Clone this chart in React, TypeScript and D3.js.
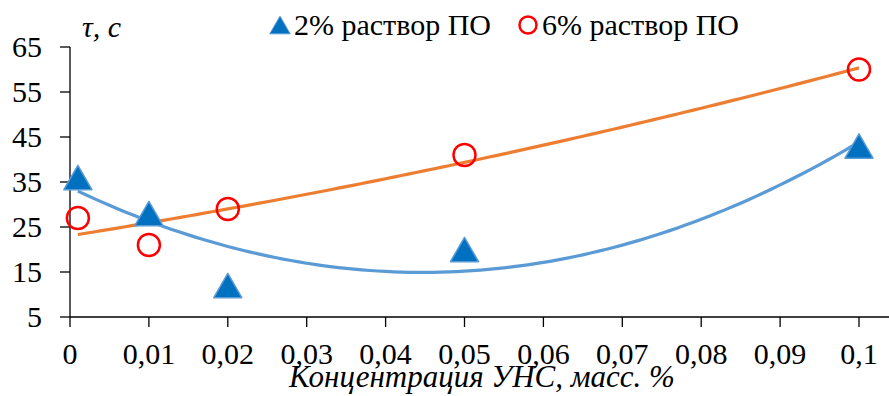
import React from "react";
import * as d3 from "d3";

const concentrations = [0.001, 0.01, 0.02, 0.05, 0.1];
const series2pct = [36, 28, 12, 20, 43];
const series6pct = [27, 21, 29, 41, 60];
const xTicks = [0, 0.01, 0.02, 0.03, 0.04, 0.05, 0.06, 0.07, 0.08, 0.09, 0.1];
const yTicks = [5, 15, 25, 35, 45, 55, 65];
const legendLabels = ["2% раствор ПО", "6% раствор ПО"];

function polyfit2(xs: number[], ys: number[]) {
  const n = xs.length;
  let s1 = 0, s2 = 0, s3 = 0, s4 = 0, t0 = 0, t1 = 0, t2 = 0;
  for (let i = 0; i < n; i++) {
    const x = xs[i], y = ys[i];
    s1 += x; s2 += x * x; s3 += x ** 3; s4 += x ** 4;
    t0 += y; t1 += x * y; t2 += x * x * y;
  }
  const A = [
    [n, s1, s2, t0],
    [s1, s2, s3, t1],
    [s2, s3, s4, t2],
  ];
  for (let c = 0; c < 3; c++) {
    let p = c;
    for (let r = c + 1; r < 3; r++) if (Math.abs(A[r][c]) > Math.abs(A[p][c])) p = r;
    [A[c], A[p]] = [A[p], A[c]];
    for (let r = 0; r < 3; r++) {
      if (r === c) continue;
      const f = A[r][c] / A[c][c];
      for (let k = c; k < 4; k++) A[r][k] -= f * A[c][k];
    }
  }
  const c0 = A[0][3] / A[0][0], c1 = A[1][3] / A[1][1], c2 = A[2][3] / A[2][2];
  return (x: number) => c0 + c1 * x + c2 * x * x;
}

export default function App() {
  const W = 889, H = 396;
  const x = d3.scaleLinear().domain([0, 0.1]).range([70, 859]);
  const y = d3.scaleLinear().domain([5, 65]).range([317, 47]);
  const font = "Liberation Serif, Times New Roman, serif";
  const f2 = polyfit2(concentrations, series2pct);
  const f6 = polyfit2(concentrations, series6pct);
  const xs = d3.range(0.001, 0.10001, 0.001);
  const line = d3.line<number[]>().x((d) => x(d[0])).y((d) => y(d[1]));
  const triSize = 340;
  const tri = d3.symbol().type(d3.symbolTriangle).size(triSize)();
  const triShift = Math.sqrt(triSize / (3 * Math.sqrt(3))) / 2;
  const legSize = 180;
  const triLeg = d3.symbol().type(d3.symbolTriangle).size(legSize)();
  const legShift = Math.sqrt(legSize / (3 * Math.sqrt(3))) / 2;

  return (
    <svg width={W} height={H} style={{ position: "absolute", left: 0, top: 0, background: "#fff", fontFamily: font }}>
      <line x1={70} x2={70} y1={47} y2={317} stroke="#000" strokeWidth={1.3} />
      <line x1={70} x2={889} y1={317} y2={317} stroke="#000" strokeWidth={1.3} />
      {yTicks.map((t) => (
        <g key={"y" + t}>
          <line x1={60} x2={70} y1={y(t)} y2={y(t)} stroke="#000" strokeWidth={1.3} />
          <text x={42} y={y(t)} dy="0.34em" textAnchor="end" style={{ fontFamily: font, fontSize: 30 }}>
            {t}
          </text>
        </g>
      ))}
      {xTicks.map((t) => (
        <g key={"x" + t}>
          <line x1={x(t)} x2={x(t)} y1={317} y2={327} stroke="#000" strokeWidth={1.3} />
          <text x={x(t)} y={364} textAnchor="middle" style={{ fontFamily: font, fontSize: 30 }}>
            {String(t).replace(".", ",")}
          </text>
        </g>
      ))}
      <text x={82} y={37} style={{ fontFamily: font, fontSize: 30, fontStyle: "italic" }}>τ, с</text>
      <text x={482} y={387} textAnchor="middle" style={{ fontFamily: font, fontSize: 31, fontStyle: "italic" }}>
        Концентрация УНС, масс. %
      </text>

      <path d={line(xs.map((v) => [v, f2(v)])) || ""} fill="none" stroke="#5B9BD5" strokeWidth={3.2} />
      <path d={line(xs.map((v) => [v, f6(v)])) || ""} fill="none" stroke="#ED7D31" strokeWidth={3.2} />

      {concentrations.map((c, i) => (
        <path key={"t" + i} d={tri || ""} transform={`translate(${x(c)},${y(series2pct[i]) + triShift})`}
          fill="#0070C0" stroke="#5B9BD5" strokeWidth={1.5} strokeLinejoin="round" />
      ))}
      {concentrations.map((c, i) => (
        <circle key={"c" + i} cx={x(c)} cy={y(series6pct[i])} r={11} fill="none" stroke="#FF0000" strokeWidth={2.5} />
      ))}

      <path d={triLeg || ""} transform={`translate(280,${25 + legShift})`} fill="#0070C0" stroke="#5B9BD5" strokeWidth={1} />
      <text x={294} y={35} style={{ fontFamily: font, fontSize: 30 }}>{legendLabels[0]}</text>
      <circle cx={528} cy={25} r={8.5} fill="none" stroke="#FF0000" strokeWidth={2.5} />
      <text x={542} y={35} style={{ fontFamily: font, fontSize: 30 }}>{legendLabels[1]}</text>
    </svg>
  );
}
